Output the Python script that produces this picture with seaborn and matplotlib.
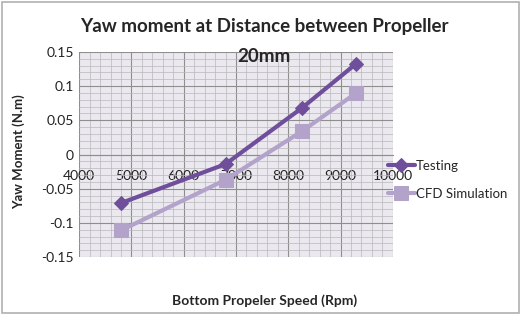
import matplotlib
matplotlib.use("Agg")
import matplotlib.pyplot as plt
import seaborn as sns
import pandas as pd
from matplotlib.ticker import MultipleLocator
from matplotlib.patches import Rectangle

# Data
speed = [4800, 6800, 8260, 9300]
testing = [-0.071, -0.014, 0.068, 0.133]
cfd = [-0.111, -0.037, 0.034, 0.090]

x_ticks = [4000, 5000, 6000, 7000, 8000, 9000, 10000]
y_ticks = [-0.15, -0.1, -0.05, 0, 0.05, 0.1, 0.15]
y_tick_labels = ["-0.15", "-0.1", "-0.05", "0", "0.05", "0.1", "0.15"]

df = pd.DataFrame({
    "speed": speed * 2,
    "moment": testing + cfd,
    "series": ["Testing"] * len(speed) + ["CFD Simulation"] * len(speed),
})

sns.set_style("white")
plt.rcParams["font.family"] = ["Lato", "DejaVu Sans"]

fig = plt.figure(figsize=(5.21, 3.15), dpi=100)
fig.patches.append(Rectangle((0.004, 0.006), 0.992, 0.988, transform=fig.transFigure,
                             fill=False, edgecolor="#b0b0b0", linewidth=1.2))
ax = fig.add_axes([0.152, 0.184, 0.602, 0.651])
ax.set_facecolor("#ebe9ef")

colors = {"Testing": "#6f4f9c", "CFD Simulation": "#b3a3cb"}
markers = {"Testing": "D", "CFD Simulation": "s"}
sizes = {"Testing": 7, "CFD Simulation": 10}
for name in ["Testing", "CFD Simulation"]:
    sub = df[df["series"] == name]
    sns.lineplot(data=sub, x="speed", y="moment", ax=ax, color=colors[name],
                 marker=markers[name], markersize=sizes[name], linewidth=3,
                 markeredgecolor=colors[name], label=name, zorder=5)

ax.set_xlim(4000, 10000)
ax.set_ylim(-0.15, 0.15)
ax.set_xticks(x_ticks)
ax.set_xticklabels([str(t) for t in x_ticks])
ax.set_yticks(y_ticks)
ax.set_yticklabels(y_tick_labels)
ax.xaxis.set_minor_locator(MultipleLocator(200))
ax.yaxis.set_minor_locator(MultipleLocator(0.01))
ax.grid(which="major", color="#8e8e8e", linewidth=0.8)
ax.grid(which="minor", color="#b8b8b8", linewidth=0.5)
ax.set_axisbelow(True)

for s in ["top", "right", "left"]:
    ax.spines[s].set_visible(False)
ax.spines["bottom"].set_position(("data", 0))
ax.spines["bottom"].set_color("#8e8e8e")
ax.tick_params(axis="both", length=0, labelsize=10, colors="#222222", pad=4)
ax.tick_params(axis="x", pad=11)

ax.set_xlabel("")
ax.set_ylabel("")
fig.text(0.507, 0.045, "Bottom Propeler Speed (Rpm)", ha="center", va="center",
         fontsize=10, fontweight="bold")
fig.text(0.036, 0.52, "Yaw Moment (N.m)", ha="center", va="center", rotation=90,
         fontsize=9.5, fontweight="bold")
fig.text(0.507, 0.915, "Yaw moment at Distance between Propeller", ha="center",
         va="center", fontsize=13.5, fontweight="bold")
fig.text(0.507, 0.822, "20mm", ha="center", va="center", fontsize=13.5,
         fontweight="bold")

leg = ax.legend(loc="center left", bbox_to_anchor=(0.985, 0.376), frameon=False,
                fontsize=9.5, handlelength=2.0, handletextpad=0.1, labelspacing=1.2,
                borderaxespad=0, borderpad=0)

fig.savefig("out.png", dpi=100)
